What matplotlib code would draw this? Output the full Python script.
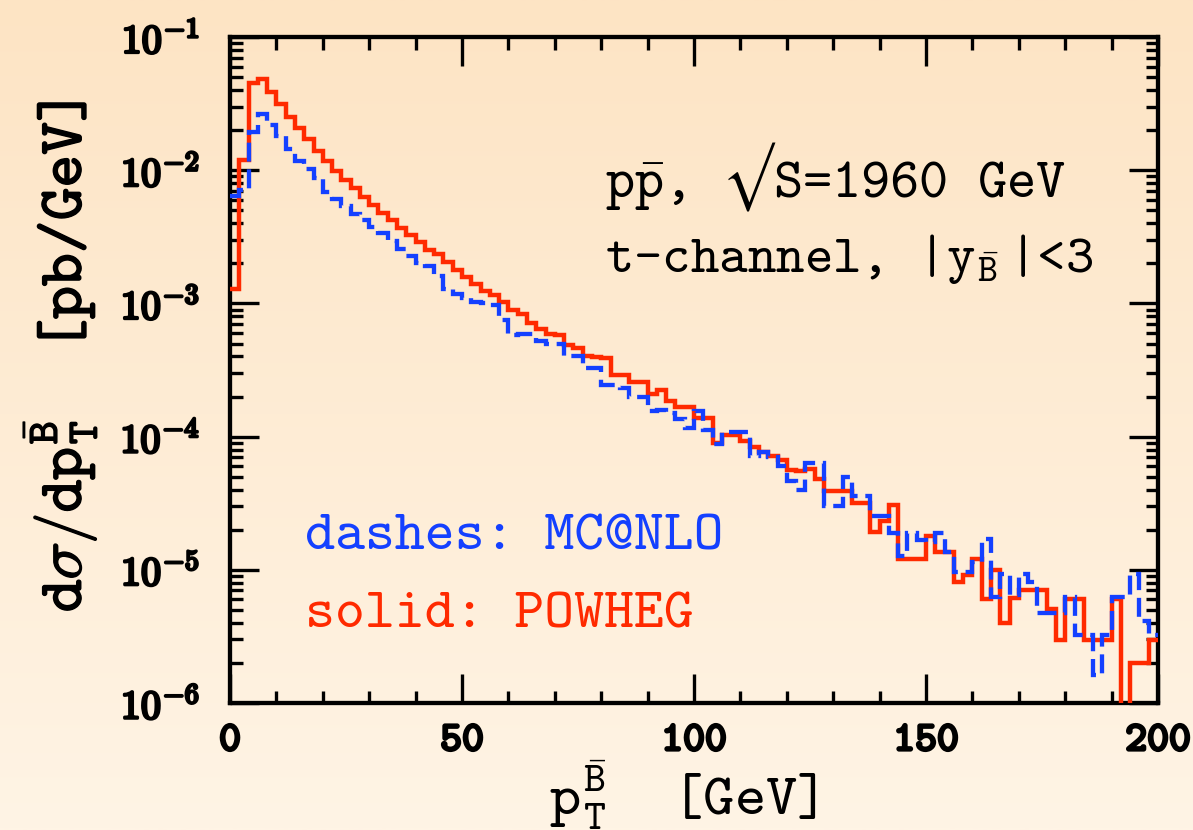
import numpy as np
import matplotlib
matplotlib.use("Agg")
import matplotlib.pyplot as plt
import matplotlib.patheffects as pe
from matplotlib.ticker import FixedLocator, MultipleLocator, LogLocator, NullFormatter, FuncFormatter

# 2 GeV bins in pT of the anti-B hadron, 0..200 GeV
pt_edges = np.arange(0, 202, 2)

# d sigma / d pT  [pb/GeV], POWHEG (solid)
powheg = [
    1.29e-3, 1.19e-2, 4.48e-2, 4.83e-2, 3.89e-2, 3.13e-2, 2.53e-2, 2.07e-2, 1.72e-2, 1.40e-2,
    1.18e-2, 9.95e-3, 8.5e-3, 7.35e-3, 6.34e-3, 5.5e-3, 4.8e-3, 4.2e-3, 3.69e-3, 3.26e-3,
    2.9e-3, 2.52e-3, 2.35e-3, 2.03e-3, 1.78e-3, 1.59e-3, 1.40e-3, 1.25e-3, 1.15e-3, 1.03e-3,
    9.0e-4, 8.3e-4, 7.1e-4, 6.4e-4, 5.9e-4, 5.8e-4, 4.9e-4, 4.6e-4, 4.0e-4, 3.95e-4,
    3.9e-4, 2.9e-4, 2.9e-4, 2.55e-4, 2.55e-4, 2.1e-4, 2.25e-4, 1.86e-4, 1.68e-4, 1.68e-4,
    1.39e-4, 1.39e-4, 8.9e-5, 1.02e-4, 1.02e-4, 9.2e-5, 8.4e-5, 7.7e-5, 7.2e-5, 6.7e-5,
    5.6e-5, 5.5e-5, 5.7e-5, 4.78e-5, 3.91e-5, 3.91e-5, 3.91e-5, 3.2e-5, 3.2e-5, 1.91e-5,
    2.33e-5, 3.05e-5, 1.21e-5, 1.21e-5, 1.21e-5, 1.80e-5, 1.36e-5, 1.36e-5, 8.1e-6, 9.1e-6,
    1.21e-5, 6.0e-6, 1.0e-5, 4.0e-6, 6.1e-6, 7.0e-6, 7.0e-6, 7.0e-6, 5.1e-6, 2.96e-6,
    6.0e-6, 6.0e-6, 2.96e-6, 2.96e-6, 2.96e-6, 6.0e-6, 5.0e-7, 2.0e-6, 2.0e-6, 2.96e-6,
]

# d sigma / d pT  [pb/GeV], MC@NLO (dashes)
mcatnlo = [
    6.4e-3, 7.1e-3, 1.92e-2, 2.66e-2, 2.17e-2, 1.80e-2, 1.45e-2, 1.18e-2, 1.03e-2, 8.7e-3,
    6.9e-3, 6.08e-3, 5.38e-3, 4.70e-3, 4.24e-3, 3.76e-3, 3.39e-3, 2.95e-3, 2.57e-3, 2.28e-3,
    2.02e-3, 1.92e-3, 1.62e-3, 1.29e-3, 1.17e-3, 1.10e-3, 1.02e-3, 1.0e-3, 9.7e-4, 7.5e-4,
    5.77e-4, 5.94e-4, 5.9e-4, 5.2e-4, 5.0e-4, 4.95e-4, 4.0e-4, 4.0e-4, 3.3e-4, 3.3e-4,
    2.44e-4, 2.44e-4, 2.3e-4, 2.0e-4, 2.0e-4, 1.55e-4, 1.58e-4, 1.5e-4, 1.35e-4, 1.16e-4,
    1.55e-4, 1.12e-4, 8.8e-5, 1.08e-4, 1.08e-4, 1.08e-4, 7.1e-5, 7.6e-5, 7.0e-5, 6.0e-5,
    4.65e-5, 4.0e-5, 6.3e-5, 6.3e-5, 3.0e-5, 3.0e-5, 5.0e-5, 3.59e-5, 3.59e-5, 2.54e-5,
    2.54e-5, 1.9e-5, 1.28e-5, 1.89e-5, 1.68e-5, 1.61e-5, 1.89e-5, 1.37e-5, 9.6e-6, 9.6e-6,
    1.15e-5, 1.70e-5, 6.3e-6, 9.3e-6, 6.46e-6, 9.3e-6, 8.1e-6, 4.7e-6, 4.7e-6, 4.7e-6,
    6.25e-6, 3.24e-6, 3.24e-6, 1.63e-6, 3.24e-6, 6.25e-6, 6.25e-6, 9.3e-6, 4.1e-6, 3.24e-6,
]

x_ticks = [0, 50, 100, 150, 200]
x_tick_labels = ["0", "50", "100", "150", "200"]
y_limits = (1e-6, 1e-1)

RED = "#ff2a00"
BLUE = "#1440ff"

plt.rcParams["mathtext.fontset"] = "cm"
plt.rcParams["font.family"] = ["cmtt10", "DejaVu Sans"]
plt.rcParams["axes.unicode_minus"] = False

fig = plt.figure(figsize=(11.93, 8.30), dpi=100)

# warm vertical gradient behind everything
bg = fig.add_axes([0, 0, 1, 1], zorder=-10)
t = np.linspace(0.0, 1.0, 256)[:, None, None]
top_col = np.array([253, 228, 196]) / 255.0
bot_col = np.array([255, 244, 229]) / 255.0
grad = top_col + (bot_col - top_col) * t
bg.imshow(grad, aspect="auto", extent=[0, 1, 0, 1], origin="upper", interpolation="bilinear")
bg.axis("off")

ax = fig.add_axes([0.1928, 0.1530, 0.7779, 0.8024])
ax.set_facecolor("none")

ax.stairs(powheg, pt_edges, baseline=None, color=RED, lw=3.2, joinstyle="miter", zorder=3)
ax.stairs(mcatnlo, pt_edges, baseline=None, color=BLUE, lw=3.1,
          linestyle=(0, (4.4, 1.8)), zorder=4)

ax.set_xlim(0, 200)
ax.set_yscale("log")
ax.set_ylim(*y_limits)

ax.xaxis.set_major_locator(FixedLocator(x_ticks))
ax.set_xticklabels(x_tick_labels)
ax.xaxis.set_minor_locator(MultipleLocator(10))
ax.yaxis.set_major_locator(LogLocator(base=10, numticks=12))
ax.yaxis.set_minor_locator(LogLocator(base=10, subs=np.arange(2, 10), numticks=12))
ax.yaxis.set_minor_formatter(NullFormatter())
ax.yaxis.set_major_formatter(FuncFormatter(
    lambda v, pos: r"$\mathtt{10}^{-\mathtt{%d}}$" % int(round(-np.log10(v)))))

ax.tick_params(which="both", direction="in", top=True, right=True, width=2.4, color="black")
ax.tick_params(which="major", length=21)
ax.tick_params(which="minor", length=9)
ax.tick_params(axis="x", which="major", labelsize=30, pad=16)
ax.tick_params(axis="y", which="major", labelsize=29, pad=22)
for sp in ax.spines.values():
    sp.set_linewidth(3.1)

bold = [pe.withStroke(linewidth=2.0, foreground="black")]
fig.canvas.draw()
for lab in ax.get_xticklabels() + ax.get_yticklabels():
    lab.set_path_effects(bold)

ax.set_xlabel(r"$\mathtt{p}_{\mathtt{T}}^{\bar{\mathtt{B}}}$  [GeV]", fontsize=43, va="center")
ax.xaxis.set_label_coords(0.488, -0.138)
ax.set_ylabel(r"$\mathtt{d}\sigma/\mathtt{dp}_{\mathtt{T}}^{\bar{\mathtt{B}}}$  [pb/GeV]",
              fontsize=45, va="center")
ax.yaxis.set_label_coords(-0.183, 0.52)
ax.yaxis.label.set_path_effects([pe.withStroke(linewidth=1.0, foreground="black")])

ax.text(0.404, 0.760, "p$\\bar{\\mathtt{p}}$, $\u221a$S=1960 GeV", transform=ax.transAxes,
        fontsize=40, va="baseline", ha="left")
ax.text(0.404, 0.647, r"t-channel, |y$_{\bar{\mathtt{B}}}\,$|<3", transform=ax.transAxes,
        fontsize=39, va="baseline", ha="left")

ax.text(0.081, 0.230, "dashes: MC@NLO", color=BLUE, transform=ax.transAxes,
        fontsize=41, va="baseline", ha="left")
ax.text(0.081, 0.114, "solid: POWHEG", color=RED, transform=ax.transAxes,
        fontsize=41, va="baseline", ha="left")

fig.savefig("out.png", dpi=100)
